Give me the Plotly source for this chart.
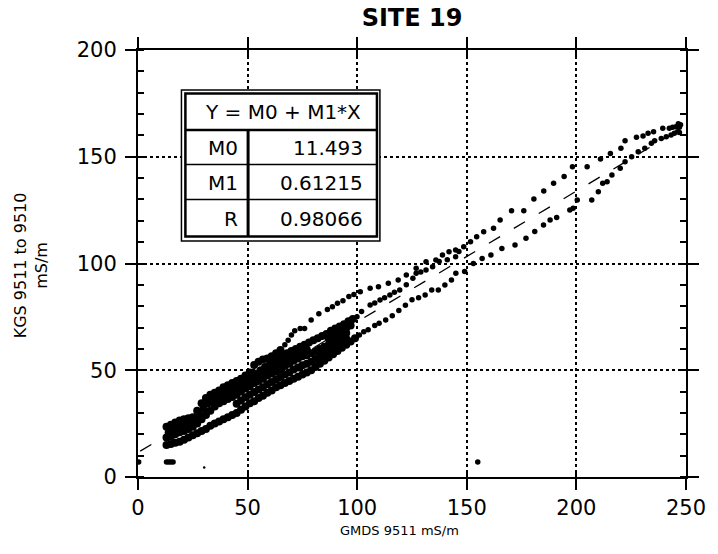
import plotly.graph_objects as go

# ---------------- data ----------------
title_text = "SITE 19"
x_title = "GMDS 9511 mS/m"
y_title = "KGS 9511 to 9510<br>mS/m"
x_ticks = [0, 50, 100, 150, 200, 250]
y_ticks = [0, 50, 100, 150, 200]

M0 = 11.493
M1 = 0.61215
R = 0.98066

# dense cluster strands
band_u_x = [13, 15, 17, 19, 21, 23, 25, 27, 29, 31, 33, 35, 37, 39, 41, 43, 45, 47, 49, 51, 53, 55, 57, 59, 61, 63, 65]
band_u_y = [23.5, 24.5, 25.5, 26.5, 27, 27.5, 28, 31, 34.5, 37, 38.5, 39.5, 40.5, 42, 43, 44, 45, 46, 47.5, 49, 52.5, 54, 55, 55.5, 56.5, 58, 59.5]

band_m1_x = [14, 16, 18, 20, 22, 24, 26, 28, 30, 32, 34, 36, 38, 40, 42, 44, 46, 48, 50, 52, 54, 56, 58, 60, 62, 64, 66, 68, 70, 72, 74, 76, 78, 80, 82, 84, 86, 88, 90, 92, 94, 96, 98]
band_m1_y = [21, 22, 23.5, 24, 25, 25.5, 26.5, 29, 32, 34.5, 36, 37, 38, 39, 40.5, 41.5, 43, 44, 45.5, 47, 48.5, 50, 51.5, 52.5, 54, 55, 56.5, 58, 59, 60, 61, 62, 63, 64, 65, 66, 67, 68.5, 69.5, 70.5, 71.5, 73, 74]

band_m1b_x = [41, 43, 45, 47, 49, 51, 53, 55, 57, 59, 61, 63, 65, 67, 69, 71, 73, 75, 77, 87, 89, 91, 93, 95, 97]
band_m1b_y = [38.2, 39.3, 40.4, 41.8, 43.1, 44.4, 45.9, 47.1, 48.4, 49.7, 50.9, 52, 53.1, 54.6, 55.7, 57, 58, 59, 59.7, 64.9, 66, 67.2, 68.5, 69.9, 71]

band_m2_x = [13, 15, 17, 19, 21, 23, 25, 27, 29, 31, 33, 35, 37, 39, 41, 43, 45, 47, 49, 51, 53, 55, 57, 59, 61, 63, 65, 67, 69, 71, 73, 75, 77, 79, 81, 83, 85, 87, 89, 91, 93, 95]
band_m2_y = [18.5, 19, 20, 21, 21.5, 22.5, 23.5, 25, 27, 29, 31, 33, 34.5, 35.5, 36.5, 37.5, 38.5, 40, 41.5, 42.5, 44, 45, 46, 47.5, 48.5, 49.5, 50.5, 52, 53, 54.5, 55.5, 56.5, 57, 58, 59, 60, 61, 62, 63, 64.5, 66, 67.5]

band_l2_x = [45, 47, 49, 51, 53, 55, 57, 59, 61, 63, 65, 67, 69, 71, 73, 75, 77, 79, 81, 83, 85, 87, 89, 91, 93, 95]
band_l2_y = [34.3, 35.8, 37.3, 38.5, 39.8, 41, 42, 43.5, 44.5, 45.8, 46.8, 48, 49, 50.3, 51.3, 52.3, 53, 54, 55.3, 56.5, 57.8, 59, 60.3, 61.8, 63.3, 64.8]

band_l_x = [13, 15, 17, 19, 21, 23, 25, 27, 29, 31, 33, 35, 37, 39, 41, 43, 45, 47, 49, 51, 53, 55, 57, 59, 61, 63, 65, 67, 69, 71, 73, 75, 77, 79, 81, 83, 85, 87, 89, 91, 93, 95, 97, 99]
band_l_y = [15, 15.5, 16, 16.5, 17.5, 18.5, 19.5, 20.5, 21.5, 22.5, 24, 25, 26, 27, 28, 29, 30, 31.5, 33, 34.5, 35.5, 37, 38, 39.5, 40.5, 42, 43, 44, 45, 46, 47, 48, 49, 50, 51.5, 53, 54.5, 56, 57.5, 59, 60.5, 62, 63.5, 65]

# upper (rising) dotted branch
upper_x = [67, 68.5, 70, 71.5, 74, 76, 79, 82.5, 86.4, 88.7, 91, 93.5, 96.2, 98.5, 101.4, 105.9, 109.7, 114.2, 118.7, 122.4,
           126.9, 131.4, 135.9, 138.9, 141.9, 144.9, 148.6, 151.7, 154.5, 157.7, 162.2, 165.2, 170.4, 176, 180.6, 185.1,
           189.6, 194.4, 198.2, 204.9, 211, 215.5, 220.3, 222.2, 227.4, 230.4, 232.7, 235.2, 239.4, 242.4, 243.9, 245.4,
           247, 246.2, 247.5, 246.5]
upper_y = [62, 64, 66.5, 68.5, 69.5, 69.6, 73.5, 76.5, 78.5, 79.8, 81.4, 82.5, 84.5, 85.5, 86.8, 88.4, 89.1, 90.7, 92.3, 94.6,
           97.8, 100.8, 101.6, 104, 105.5, 106.3, 107.9, 110.2, 112.5, 114.9, 116.5, 120.4, 124.7, 124.7, 130.2, 134,
           137.6, 140.7, 145.3, 145.3, 149, 151.5, 154, 157.5, 159.1, 159.7, 161, 161.7, 163.3, 163.3, 163.8, 164.1,
           163.8, 161.7, 165, 165.5]

# middle strand
middle_x = [99.9, 102, 105.9, 108, 110.4, 112.5, 114.9, 117, 119.4, 122.4, 125.4, 126.9, 129, 131.4, 134.4, 137.4, 141.1, 144.9, 146.4]
middle_y = [75.1, 77.5, 80.6, 81.5, 82.9, 84, 85.3, 86.5, 87.6, 90, 93.1, 95.4, 96, 97, 98.5, 100.9, 101.7, 103.2, 105.6]

# lower (returning) dotted branch
lower_x = [101, 103, 105, 108, 110, 113, 116, 119, 122, 125, 128, 131, 134, 137, 140, 143, 145, 149, 153, 157, 161, 166,
           172, 177, 181, 185, 188, 191, 197, 198.5, 200.4, 207, 210, 212, 214, 216.2, 220, 222.2, 225.2, 228.2, 231.2,
           234.2, 235.7, 238.7, 241, 243.2, 244.7, 247]
lower_y = [66.5, 68, 69, 71, 72, 73.5, 75.5, 78, 80.5, 83, 84, 85.2, 87.6, 87.6, 89.9, 92.3, 95.4, 96.2, 100, 102.4, 104, 107,
           108.7, 111.8, 115, 118, 120.4, 121.6, 125, 125.9, 129.7, 129.7, 133.6, 137.6, 138.3, 141.5, 144.6, 147.7, 150, 152.4, 154,
           156.3, 157.5, 158.6, 159.4, 160.2, 161, 161.3]

# isolated points
iso_x = [0.3, 13, 14, 15, 16, 155]
iso_y = [7, 7, 7, 7, 7, 7]
tiny_x = [30.2]
tiny_y = [4.4]

# regression line end points
fit_x = [1, 248]

# ---------------- figure ----------------
FONT = "DejaVu Sans"
fig = go.Figure()

fig.add_trace(go.Scatter(x=fit_x, y=[M0 + M1 * v for v in fit_x], mode="lines",
                         line=dict(color="black", width=1.3, dash="13px,16px"),
                         hoverinfo="skip", showlegend=False))

for bx, by in [(band_u_x, band_u_y), (band_m1_x, band_m1_y), (band_m1b_x, band_m1b_y),
               (band_m2_x, band_m2_y), (band_l2_x, band_l2_y), (band_l_x, band_l_y)]:
    fig.add_trace(go.Scatter(x=bx, y=by, mode="markers", marker=dict(color="black", size=8),
                             showlegend=False, cliponaxis=False))

for bx, by in [(upper_x, upper_y), (middle_x, middle_y), (lower_x, lower_y), (iso_x, iso_y)]:
    fig.add_trace(go.Scatter(x=bx, y=by, mode="markers", marker=dict(color="black", size=5.5),
                             showlegend=False, cliponaxis=False))
fig.add_trace(go.Scatter(x=tiny_x, y=tiny_y, mode="markers", marker=dict(color="black", size=2.5),
                         showlegend=False, cliponaxis=False))

# overlay axes trace (empty) to draw inward halves of major ticks
fig.add_trace(go.Scatter(x=[], y=[], xaxis="x2", yaxis="y2", showlegend=False))

axis_common = dict(showline=True, linecolor="black", linewidth=2, mirror="allticks",
                   zeroline=False, tickcolor="black", tickwidth=1.5,
                   tickfont=dict(family=FONT, size=21, color="black"),
                   showgrid=True, gridcolor="black", gridwidth=1.5, griddash="dot")

fig.update_layout(
    width=718, height=554,
    margin=dict(l=138, r=25, t=50, b=77),
    paper_bgcolor="white", plot_bgcolor="white",
    title=dict(text="<b>" + title_text + "</b>", x=0.5, xref="paper", y=1, yref="container",
               yanchor="top", pad=dict(t=9), font=dict(family=FONT, size=24, color="black")),
    xaxis=dict(range=[0, 250], tickvals=x_ticks, ticktext=[str(v) for v in x_ticks],
               ticks="outside", ticklen=11, ticklabelstandoff=0, **axis_common),
    yaxis=dict(range=[0, 200], tickvals=y_ticks, ticktext=[str(v) for v in y_ticks],
               ticks="outside", ticklen=11, ticklabelstandoff=4,
               minor=dict(dtick=10, ticks="inside", ticklen=6, tickcolor="black", tickwidth=1.5, showgrid=False),
               **axis_common),
    xaxis2=dict(range=[0, 250], overlaying="x", anchor="y2", side="bottom", tickvals=x_ticks,
                ticks="inside", ticklen=6, tickcolor="black", tickwidth=1.5, showticklabels=False,
                showgrid=False, zeroline=False, showline=False, mirror="allticks"),
    yaxis2=dict(range=[0, 200], overlaying="y", anchor="x2", side="left", tickvals=y_ticks,
                ticks="inside", ticklen=5, tickcolor="black", tickwidth=1.5, showticklabels=False,
                showgrid=False, zeroline=False, showline=False, mirror="allticks"),
)

# axis titles
fig.add_annotation(text=x_title, xref="paper", yref="paper", x=(403 - 138) / 555, y=-(530 - 477) / 427,
                   showarrow=False, xanchor="center", yanchor="middle",
                   font=dict(family=FONT, size=13, color="black"))
fig.add_annotation(text=y_title, xref="paper", yref="paper", x=-(138 - 30) / 555, y=(477 - 265) / 427,
                   textangle=-90, showarrow=False, xanchor="center", yanchor="middle",
                   font=dict(family=FONT, size=16, color="black"))

# --------- regression table ---------
def px2x(px):
    return (px - 138) / 555


def px2y(py):
    return (477 - py) / 427


shapes = []
shapes.append(dict(type="rect", xref="paper", yref="paper", x0=px2x(182), x1=px2x(383), y0=px2y(241), y1=px2y(90),
                   line=dict(color="black", width=1.5), fillcolor="white", layer="above"))
shapes.append(dict(type="rect", xref="paper", yref="paper", x0=px2x(186), x1=px2x(380), y0=px2y(236.5), y1=px2y(93.5),
                   line=dict(color="black", width=2.5), fillcolor="white", layer="above"))
shapes.append(dict(type="line", xref="paper", yref="paper", x0=px2x(186), x1=px2x(380), y0=px2y(130), y1=px2y(130),
                   line=dict(color="black", width=2.5), layer="above"))
for ry in [164.5, 199.5]:
    shapes.append(dict(type="line", xref="paper", yref="paper", x0=px2x(186), x1=px2x(380), y0=px2y(ry), y1=px2y(ry),
                       line=dict(color="black", width=1.5), layer="above"))
shapes.append(dict(type="line", xref="paper", yref="paper", x0=px2x(249.5), x1=px2x(249.5), y0=px2y(236.5), y1=px2y(130),
                   line=dict(color="black", width=3), layer="above"))
fig.update_layout(shapes=shapes)

tfont = dict(family=FONT, size=20, color="black")
fig.add_annotation(text="Y = M0 + M1*X", xref="paper", yref="paper", x=px2x(285), y=px2y(112),
                   showarrow=False, xanchor="center", yanchor="middle", font=tfont)
rows = [("M0", f"{M0:.3f}"), ("M1", f"{M1:.5f}"), ("R", f"{R:.5f}")]
for (lab, val), cy in zip(rows, [147.5, 182.5, 218.5]):
    fig.add_annotation(text=lab, xref="paper", yref="paper", x=px2x(241), y=px2y(cy),
                       showarrow=False, xanchor="right", yanchor="middle", font=tfont)
    fig.add_annotation(text=val, xref="paper", yref="paper", x=px2x(368), y=px2y(cy),
                       showarrow=False, xanchor="right", yanchor="middle", font=tfont)

fig.write_html("out.html")
